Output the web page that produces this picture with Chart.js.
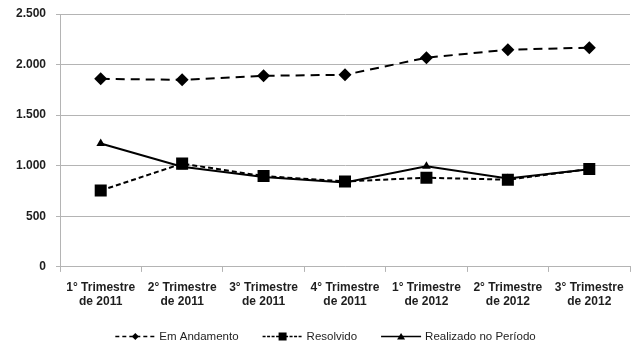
<!DOCTYPE html>
<html>
<head>
<meta charset="utf-8">
<script src="https://cdn.jsdelivr.net/npm/chart.js@4.4.1/dist/chart.umd.min.js"></script>
<style>
  html, body { margin: 0; padding: 0; background: #fff; }
  #wrap { width: 641px; height: 347px; position: relative; }
</style>
</head>
<body>
<div id="wrap"><canvas id="chart"></canvas></div>
<script>
// data
const categories = [
  ["1° Trimestre", "de 2011"],
  ["2° Trimestre", "de 2011"],
  ["3° Trimestre", "de 2011"],
  ["4° Trimestre", "de 2011"],
  ["1° Trimestre", "de 2012"],
  ["2° Trimestre", "de 2012"],
  ["3° Trimestre", "de 2012"]
];
const emAndamento = [1859, 1849, 1889, 1899, 2068, 2147, 2167];
const resolvido = [755, 1021, 898, 845, 882, 862, 967];
const realizado = [1220, 990, 888, 835, 994, 875, 965];
const yMin = 0, yMax = 2500, yStep = 500;

const GRID = "#b4b4b4";
const TEXT = "#1e1e1e";

function fmt(v) {
  // 2500 -> "2.500"
  return String(v).replace(/\B(?=(\d{3})+(?!\d))/g, ".");
}

// legend with line sample + marker, like the spreadsheet legend
const lineLegend = {
  id: "lineLegend",
  afterDraw(chart) {
    const ctx = chart.ctx;
    ctx.save();
    ctx.font = '11.5px "Liberation Sans", Arial, sans-serif';
    ctx.textBaseline = "middle";
    const sw = 40, gapText = 4, gapItem = 24;
    const items = chart.data.datasets.map((ds) => ({ ds, w: ctx.measureText(ds.label).width }));
    const total = items.reduce((s, it) => s + sw + gapText + it.w, 0) + gapItem * (items.length - 1);
    let x = chart.width / 2 + 5 - total / 2;
    const y = chart.height - 10.5;
    items.forEach(({ ds, w }) => {
      ctx.strokeStyle = "#000";
      ctx.lineWidth = 1.5;
      ctx.setLineDash(ds.legendDash || []);
      ctx.beginPath();
      ctx.moveTo(x, y);
      ctx.lineTo(x + sw, y);
      ctx.stroke();
      ctx.setLineDash([]);
      const cx = x + sw / 2;
      ctx.fillStyle = "#000";
      ctx.beginPath();
      if (ds.pointStyle === "rectRot") {
        ctx.moveTo(cx, y - 3.5); ctx.lineTo(cx + 3.5, y); ctx.lineTo(cx, y + 3.5); ctx.lineTo(cx - 3.5, y);
      } else if (ds.pointStyle === "rect") {
        ctx.rect(cx - 4, y - 4, 8, 8);
      } else {
        ctx.moveTo(cx, y - 3.5); ctx.lineTo(cx + 4, y + 3); ctx.lineTo(cx - 4, y + 3);
      }
      ctx.closePath();
      ctx.fill();
      ctx.fillStyle = TEXT;
      ctx.fillText(ds.label, x + sw + gapText, y);
      x += sw + gapText + w + gapItem;
    });
    ctx.restore();
  }
};

new Chart(document.getElementById("chart"), {
  type: "line",
  data: {
    labels: categories,
    datasets: [
      {
        label: "Em Andamento",
        data: emAndamento,
        borderColor: "#000",
        backgroundColor: "#000",
        borderWidth: 2,
        borderDash: [9, 6],
        legendDash: [4, 3],
        pointStyle: "rectRot",
        pointRadius: 6.5,
        pointBorderWidth: 0
      },
      {
        label: "Resolvido",
        data: resolvido,
        borderColor: "#000",
        backgroundColor: "#000",
        borderWidth: 2,
        borderDash: [5, 3],
        legendDash: [3, 1.5],
        pointStyle: "rect",
        pointRadius: 8.5,
        pointBorderWidth: 0
      },
      {
        label: "Realizado no Período",
        data: realizado,
        borderColor: "#000",
        backgroundColor: "#000",
        borderWidth: 2,
        pointStyle: "triangle",
        pointRadius: 5,
        pointBorderWidth: 0
      }
    ]
  },
  options: {
    responsive: true,
    maintainAspectRatio: false,
    animation: false,
    layout: { padding: { left: 15, right: 11, top: 14, bottom: 29 } },
    plugins: {
      legend: { display: false },
      tooltip: { enabled: false }
    },
    scales: {
      x: {
        offset: true,
        grid: { offset: true, drawOnChartArea: false, color: GRID, tickLength: 5 },
        border: { color: GRID },
        ticks: {
          color: TEXT,
          padding: 9,
          maxRotation: 0,
          autoSkip: false,
          font: { family: '"Liberation Sans", Arial, sans-serif', size: 12, weight: "bold", lineHeight: 1.17 }
        }
      },
      y: {
        min: yMin,
        max: yMax,
        afterFit(scale) { scale.width = 45; scale.paddingTop = 0; },
        grid: { color: GRID, tickLength: 4 },
        border: { color: GRID },
        ticks: {
          stepSize: yStep,
          color: TEXT,
          padding: 10,
          callback: (v) => fmt(v),
          font: { family: '"Liberation Sans", Arial, sans-serif', size: 12, weight: "bold" }
        }
      }
    }
  },
  plugins: [lineLegend]
});
</script>
</body>
</html>
